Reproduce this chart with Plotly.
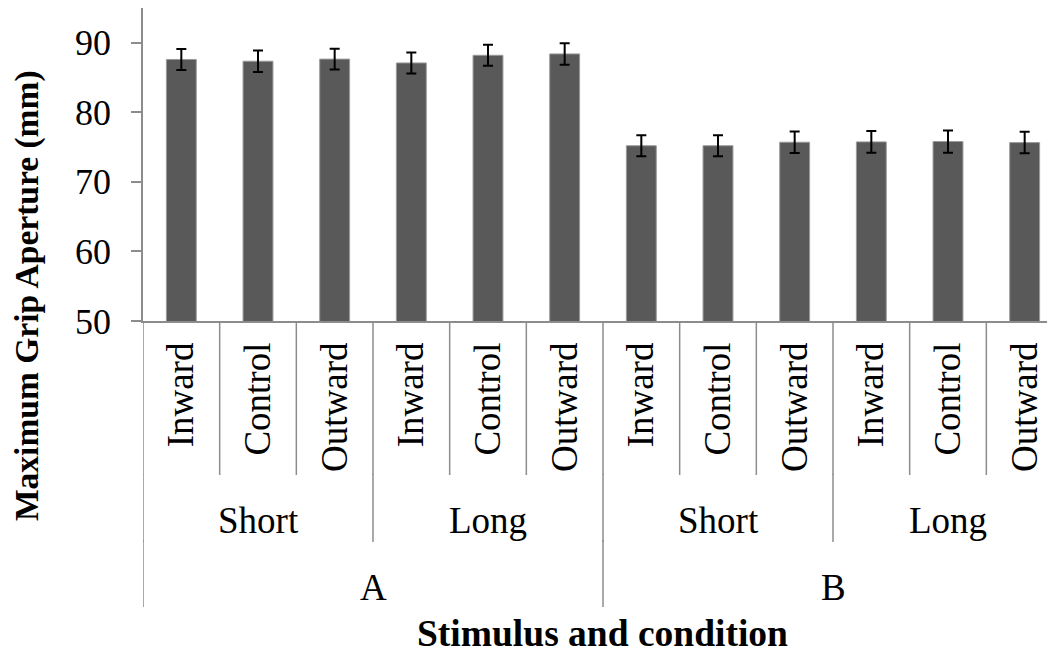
import plotly.graph_objects as go

stimuli = ["A"] * 6 + ["B"] * 6
conditions = ["Short"] * 3 + ["Long"] * 3 + ["Short"] * 3 + ["Long"] * 3
directions = ["Inward", "Control", "Outward"] * 4
mga = [87.6, 87.35, 87.65, 87.1, 88.2, 88.4, 75.2, 75.2, 75.7, 75.75, 75.8, 75.65]
mga_err = [1.5, 1.55, 1.5, 1.5, 1.5, 1.55, 1.5, 1.5, 1.55, 1.55, 1.6, 1.55]
y_ticks = [50, 60, 70, 80, 90]

FONT = "Liberation Serif, Times New Roman, serif"
AXIS_GRAY = "#8c8c8c"

x = list(range(len(mga)))

fig = go.Figure()
fig.add_trace(go.Bar(
    x=x, y=mga, width=0.39,
    marker=dict(color="#595959", line=dict(color="#9a9a9a", width=1)),
    error_y=dict(type="data", array=mga_err, visible=True,
                 color="black", thickness=2, width=5),
    showlegend=False,
))


def groups(labels):
    out = []
    start = 0
    for i in range(1, len(labels) + 1):
        if i == len(labels) or labels[i] != labels[start]:
            out.append((labels[start], start, i - 1))
            start = i
    return out


shapes = []
annotations = []
for i in range(len(x) + 1):
    shapes.append(dict(type="line", xref="x", yref="paper",
                       x0=i - 0.5, x1=i - 0.5, y0=0, y1=-0.492,
                       line=dict(color=AXIS_GRAY, width=1.5)))
cond_keys = [s + c for s, c in zip(stimuli, conditions)]
for key, a, b in groups(cond_keys):
    shapes.append(dict(type="line", xref="x", yref="paper",
                       x0=a - 0.5, x1=a - 0.5, y0=-0.49, y1=-0.706,
                       line=dict(color=AXIS_GRAY, width=1.5)))
    annotations.append(dict(xref="x", yref="paper", x=(a + b) / 2, y=-0.636,
                            text=conditions[a], showarrow=False,
                            font=dict(family=FONT, size=37, color="black"),
                            yanchor="middle"))
for key, a, b in groups(stimuli):
    shapes.append(dict(type="line", xref="x", yref="paper",
                       x0=a - 0.5, x1=a - 0.5, y0=-0.70, y1=-0.914,
                       line=dict(color=AXIS_GRAY, width=1.5)))
    annotations.append(dict(xref="x", yref="paper", x=(a + b) / 2, y=-0.85,
                            text=key, showarrow=False,
                            font=dict(family=FONT, size=37, color="black"),
                            yanchor="middle"))

# axis titles
annotations.append(dict(xref="paper", yref="paper", x=0.4995, y=-0.997,
                        text="<b>Stimulus and condition</b>", showarrow=False,
                        font=dict(family=FONT, size=37.5, color="black"),
                        xanchor="center", yanchor="middle"))
annotations.append(dict(xref="paper", yref="paper", x=-0.126, y=0.08,
                        text="<b>Maximum Grip Aperture (mm)</b>", showarrow=False,
                        textangle=-90,
                        font=dict(family=FONT, size=33.5, color="black"),
                        xanchor="center", yanchor="middle"))

# the page body adds an 8px margin, so the figure is shifted up/left by 8px
fig.update_layout(
    template="none",
    width=1055, height=653,
    margin=dict(l=135, r=0, t=0, b=340, autoexpand=False),
    paper_bgcolor="white", plot_bgcolor="white",
    font=dict(family=FONT, color="black"),
    shapes=shapes, annotations=annotations,
    xaxis=dict(
        automargin=False,
        range=[-0.5, 11.5],
        tickmode="array", tickvals=x, ticktext=directions,
        tickangle=-90, ticks="", showline=True, linecolor=AXIS_GRAY, linewidth=1.5,
        showgrid=False, zeroline=False,
        tickfont=dict(family=FONT, size=37, color="black"),
        ticklabelstandoff=5,
    ),
    yaxis=dict(
        automargin=False,
        range=[50, 95],
        tickmode="array", tickvals=y_ticks,
        ticks="outside", ticklen=10, tickcolor=AXIS_GRAY, tickwidth=1.5,
        showline=True, linecolor=AXIS_GRAY, linewidth=1.5,
        showgrid=False, zeroline=False,
        tickfont=dict(family=FONT, size=36, color="black"),
        ticklabelstandoff=13,
    ),
)

fig.write_html("out.html")
